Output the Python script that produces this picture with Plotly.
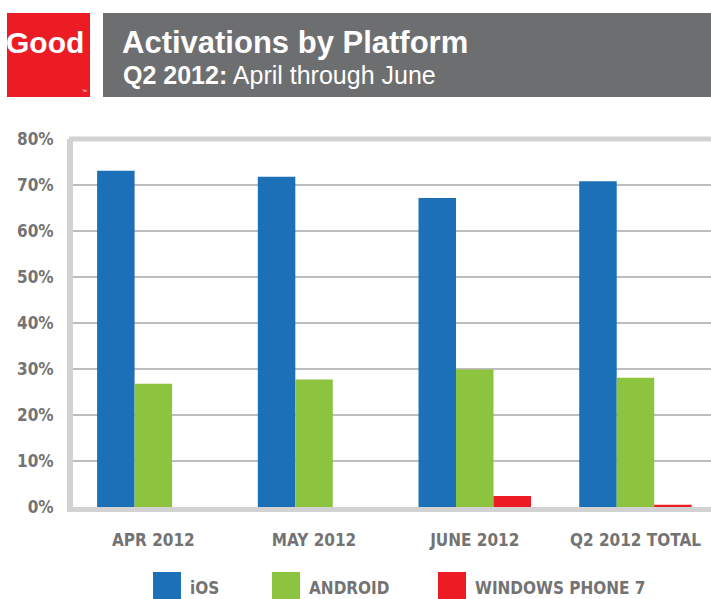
import plotly.graph_objects as go

# ---- data ----
categories = ["APR 2012", "MAY 2012", "JUNE 2012", "Q2 2012 TOTAL"]
series_names = ["iOS", "ANDROID", "WINDOWS PHONE 7"]
ios = [73.1, 71.8, 67.2, 70.8]
android = [26.8, 27.7, 29.9, 28.1]
wp7 = [0.0, 0.0, 2.4, 0.5]
series_colors = ["#1b70b8", "#8cc43f", "#ed1c24"]
y_ticks = [0, 10, 20, 30, 40, 50, 60, 70, 80]
y_tick_labels = [f"{v}%" for v in y_ticks]

W, H = 711, 599
ML, MR, MT, MB = 73, 0, 139, 92
PW, PH = W - ML - MR, H - MT - MB

def px(x):
    return (x - ML) / PW

def py(y):
    return (H - MB - y) / PH

NARROW = "DejaVu Sans Condensed, Liberation Sans Narrow, Arial Narrow, sans-serif"
AX_FONT = dict(family=NARROW, size=17, color="#737373", weight="bold")
GRAY_LINE = "#d2d2d2"

fig = go.Figure()
for name, vals, col in zip(series_names, [ios, android, wp7], series_colors):
    fig.add_trace(go.Bar(x=categories, y=vals, name=name, marker=dict(color=col, line=dict(width=0)),
                         showlegend=False))

fig.update_layout(
    width=W, height=H,
    margin=dict(l=ML, r=MR, t=MT, b=MB, autoexpand=False),
    paper_bgcolor="white", plot_bgcolor="white",
    barmode="group", bargap=0.3, bargroupgap=0,
    xaxis=dict(range=[-0.5, 3.47], showgrid=False, zeroline=False,
               showline=True, linewidth=5, linecolor=GRAY_LINE,
               ticks="outside", ticklen=14, tickcolor="rgba(0,0,0,0)",
               tickfont=AX_FONT, automargin=False),
    yaxis=dict(range=[0, 80], tickvals=y_ticks, ticktext=y_tick_labels,
               showgrid=True, gridcolor="#bdbdbd", gridwidth=2, zeroline=False,
               showline=True, linewidth=6, linecolor=GRAY_LINE,
               ticks="outside", ticklen=10, tickcolor="rgba(0,0,0,0)",
               tickfont=AX_FONT, automargin=False),
)

shapes = []
annotations = []
# top frame line
shapes.append(dict(type="line", xref="paper", yref="paper", x0=px(69), x1=1, y0=1, y1=1,
                   line=dict(color=GRAY_LINE, width=5), layer="above"))
# header: red logo box and gray banner
shapes.append(dict(type="rect", xref="paper", yref="paper", x0=px(7), x1=px(90), y0=py(97), y1=py(13),
                   fillcolor="#ec1c24", line=dict(width=0)))
shapes.append(dict(type="rect", xref="paper", yref="paper", x0=px(103), x1=px(711), y0=py(97), y1=py(13),
                   fillcolor="#6d6e70", line=dict(width=0)))
annotations.append(dict(text="<b>Good</b>", xref="paper", yref="paper", x=px(45), y=py(42),
                        xanchor="center", yanchor="middle", showarrow=False,
                        font=dict(family="Liberation Sans", size=30, color="white")))
annotations.append(dict(text="™", xref="paper", yref="paper", x=px(84), y=py(91),
                        xanchor="center", yanchor="middle", showarrow=False,
                        font=dict(family="Liberation Sans", size=5, color="white")))
annotations.append(dict(text="<b>Activations by Platform</b>", xref="paper", yref="paper", x=px(120), y=py(43),
                        xanchor="left", yanchor="middle", showarrow=False,
                        font=dict(family="Liberation Sans", size=31, color="white")))
annotations.append(dict(text="<b>Q2 2012:</b> April through June", xref="paper", yref="paper", x=px(121), y=py(75),
                        xanchor="left", yanchor="middle", showarrow=False,
                        font=dict(family="Liberation Sans", size=25, color="white")))

# legend (drawn manually for large swatches)
legend_x = [153, 272, 438]
for name, col, lx in zip(series_names, series_colors, legend_x):
    shapes.append(dict(type="rect", xref="paper", yref="paper", x0=px(lx), x1=px(lx + 28),
                       y0=py(603), y1=py(572), fillcolor=col, line=dict(width=0)))
    annotations.append(dict(text=name, xref="paper", yref="paper", x=px(lx + 35), y=py(588),
                            xanchor="left", yanchor="middle", showarrow=False,
                            font=AX_FONT))

fig.update_layout(shapes=shapes, annotations=annotations)

fig.write_html("out.html", config={"displayModeBar": False},
               post_script="document.body.style.margin='0';")
